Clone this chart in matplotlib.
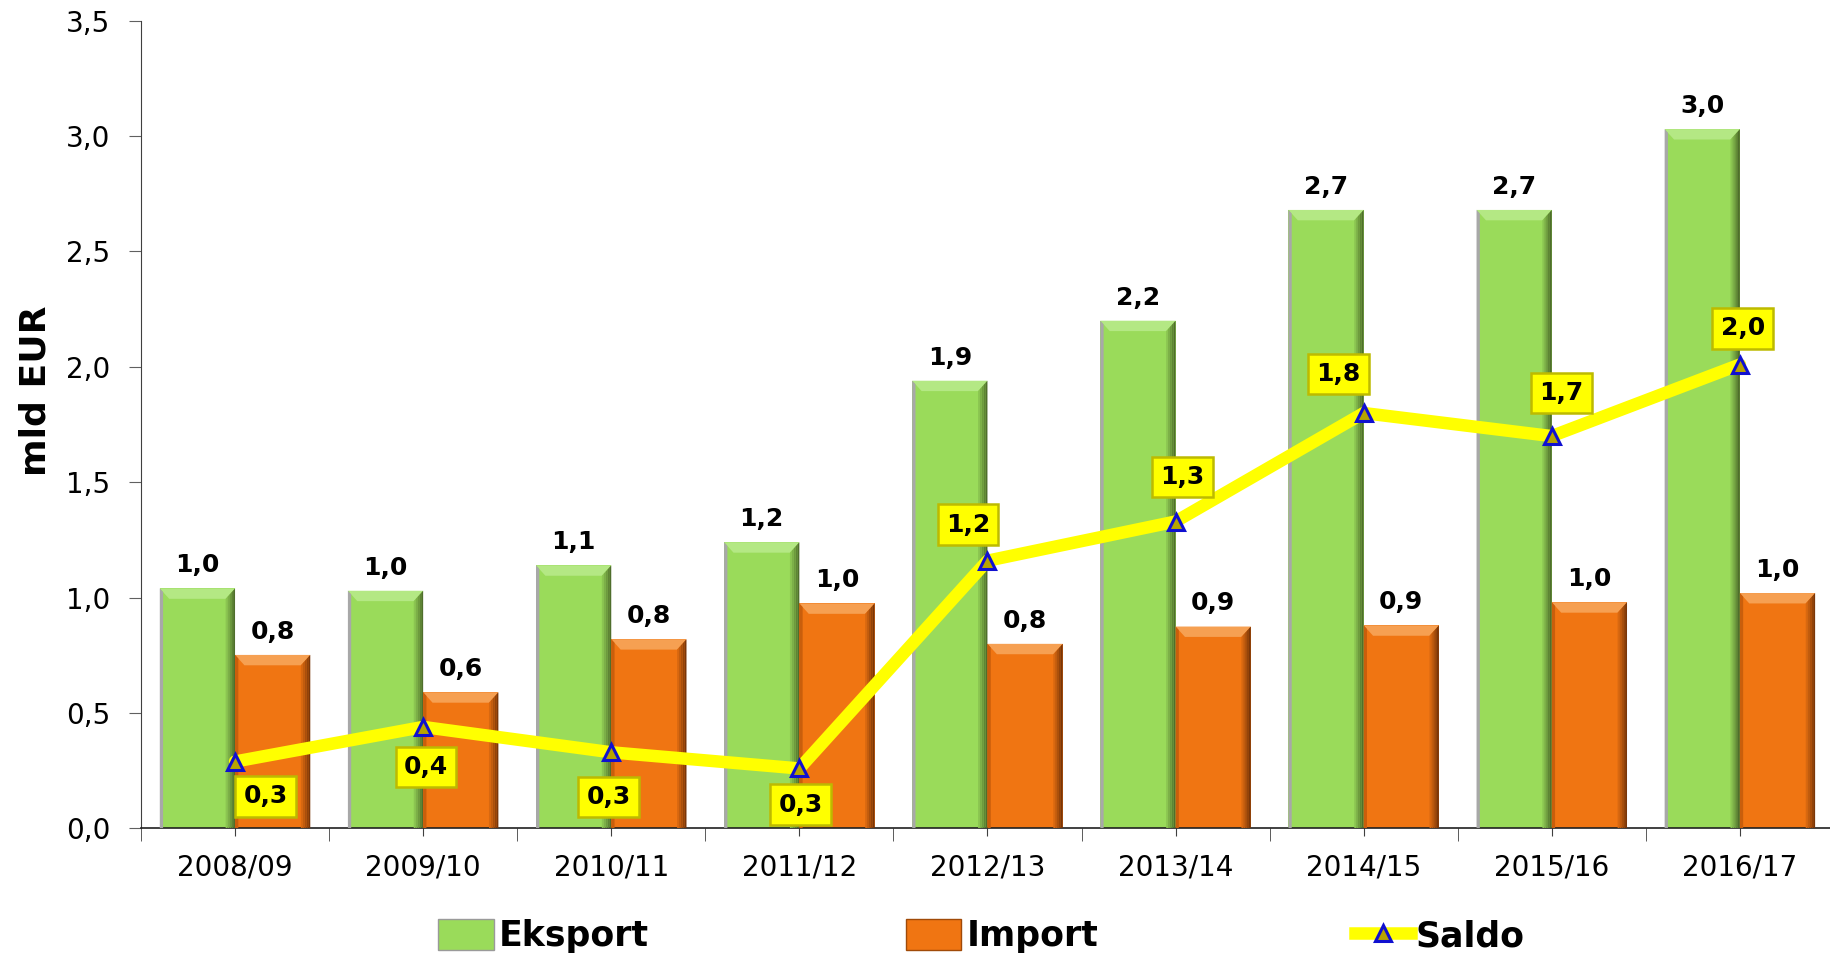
import numpy as np
import matplotlib.pyplot as plt
from matplotlib.patches import Polygon, Patch
from matplotlib.lines import Line2D
from matplotlib.colors import to_rgb
from matplotlib.ticker import FuncFormatter, MultipleLocator

years = ['2008/09', '2009/10', '2010/11', '2011/12', '2012/13',
         '2013/14', '2014/15', '2015/16', '2016/17']
eksport = [1.04, 1.03, 1.14, 1.24, 1.94, 2.20, 2.68, 2.68, 3.03]
imports = [0.752, 0.59, 0.82, 0.975, 0.80, 0.875, 0.88, 0.98, 1.02]
saldo = [0.29, 0.44, 0.33, 0.26, 1.16, 1.33, 1.80, 1.70, 2.01]

# offsets (points) of the yellow saldo labels relative to the marker
saldo_off = [(22, -25), (2, -29), (-2, -32), (1, -26), (-14, 26),
             (5, 32), (-18, 28), (7, 31), (2, 26)]

green, green_lt, green_dk = '#9ADB5A', '#B4E884', '#4F6E2C'
orange, orange_lt, orange_dk = '#F07512', '#F6A052', '#7A3608'


def fmt(v):
    return f'{v:.1f}'.replace('.', ',')


def bevel(bars, light, dark, side):
    bx, by = 0.05, 0.045
    for r in bars:
        x0, w, h = r.get_x(), r.get_width(), r.get_height()
        ax.add_patch(Polygon([(x0, h), (x0 + w, h), (x0 + w - bx, h - by), (x0 + bx, h - by)],
                             closed=True, fc=light, ec='none', zorder=3))
        # right side: dark gradient strip
        n = 5
        base = np.array(to_rgb(r.get_facecolor()[:3]))
        for i in range(n):
            t = (i + 1) / n
            c = base * (1 - t) + np.array(to_rgb(dark)) * t
            xa = x0 + w - bx + bx * i / n
            xb = x0 + w - bx + bx * (i + 1) / n
            ya = h - by + by * i / n
            yb = h - by + by * (i + 1) / n
            ax.add_patch(Polygon([(xa, 0), (xb, 0), (xb, yb), (xa, ya)],
                                 closed=True, fc=c, ec='none', zorder=3))
        ax.add_patch(Polygon([(x0, 0), (x0, h), (x0 + bx * 0.35, h - by * 0.35), (x0 + bx * 0.35, 0)],
                             closed=True, fc=side, ec='none', zorder=3))


fig = plt.figure(figsize=(18.31, 9.61), dpi=100)
ax = fig.add_axes([0.077, 0.1379, 0.9246, 0.8406])

x = np.arange(len(years))
b1 = ax.bar(x - 0.2, eksport, 0.4, color=green, zorder=2)
b2 = ax.bar(x + 0.2, imports, 0.4, color=orange, zorder=2)
bevel(b1, green_lt, green_dk, '#A8A8A8')
bevel(b2, orange_lt, orange_dk, '#C95E0C')

ax.plot(x, saldo, color='#FFFF00', lw=9, zorder=4, solid_capstyle='round')
ax.plot(x, saldo, ls='none', marker='^', ms=12, mfc='#B8A400', mec='#1010D0',
        mew=2.2, zorder=5)

for r, v in zip(b1, eksport):
    ax.annotate(fmt(v), (r.get_x() + r.get_width() / 2, v), xytext=(0, 8),
                textcoords='offset points', ha='center', va='bottom',
                fontsize=18, fontweight='bold', zorder=6)
for r, v in zip(b2, imports):
    ax.annotate(fmt(v), (r.get_x() + r.get_width() / 2, v), xytext=(0, 8),
                textcoords='offset points', ha='center', va='bottom',
                fontsize=18, fontweight='bold', zorder=6)
for xi, v, off in zip(x, saldo, saldo_off):
    ax.annotate(fmt(v), (xi, v), xytext=off, textcoords='offset points',
                ha='center', va='center', fontsize=18, fontweight='bold', zorder=7,
                bbox=dict(boxstyle='square,pad=0.33', fc='#FFFF00', ec='#BDBA00', lw=1.8))

ax.set_xlim(-0.5, len(years) - 0.5)
ax.set_ylim(0, 3.5)
ax.yaxis.set_major_locator(MultipleLocator(0.5))
ax.yaxis.set_major_formatter(FuncFormatter(lambda v, p: fmt(v)))
ax.set_xticks(x)
ax.set_xticklabels(years)
ax.set_xticks(np.arange(len(years) + 1) - 0.5, minor=True)
ax.tick_params(axis='x', which='major', length=6, labelsize=20, pad=12, color='#404040')
ax.tick_params(axis='x', which='minor', length=9, color='#404040')
ax.tick_params(axis='y', length=9, labelsize=20, pad=13, color='#606060')
for s in ['top', 'right']:
    ax.spines[s].set_visible(False)
ax.spines['left'].set_color('#404040')
ax.spines['bottom'].set_color('#202020')
ax.spines['bottom'].set_linewidth(1.2)

ax.set_ylabel('mld EUR', fontsize=26, fontweight='bold')
ax.yaxis.set_label_coords(-0.052, 0.5416)

handles = [Patch(fc=green, ec='#9A9A9A'), Patch(fc=orange, ec='#A04A08'),
           Line2D([], [], color='#FFFF00', lw=9, marker='^', ms=12,
                  mfc='#B8A400', mec='#1010D0', mew=2.2)]
fig.legend(handles, ['Eksport', 'Import', 'Saldo'], loc='center',
           bbox_to_anchor=(0.536, 0.026), ncol=3, frameon=False,
           prop={'size': 25, 'weight': 'bold'}, handlelength=1.6,
           handleheight=1.0, handletextpad=0.15, columnspacing=7.4)

plt.savefig('out.png', dpi=100)
